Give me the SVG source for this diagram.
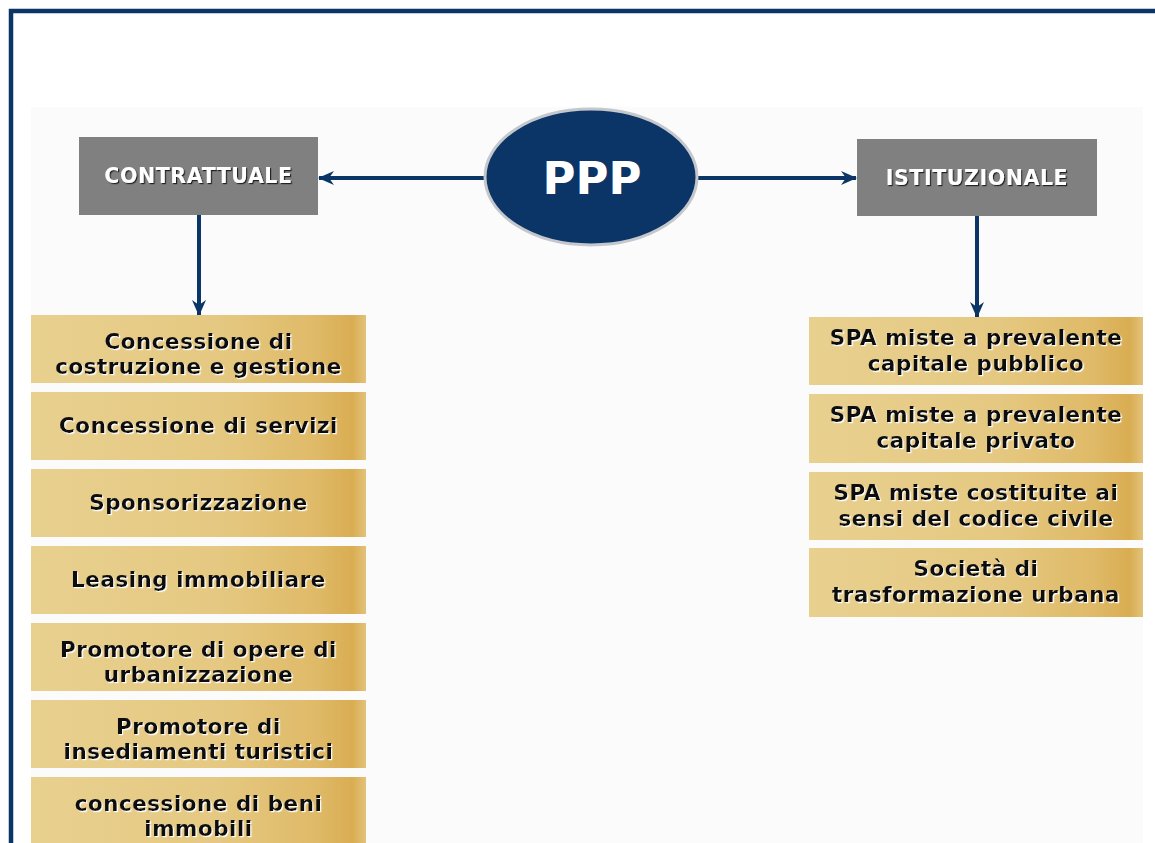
<svg xmlns="http://www.w3.org/2000/svg" width="1155" height="843" viewBox="0 0 1155 843">
<defs>
<style>
.hdr{fill:#808080}
.hdrt{font-family:"DejaVu Sans",sans-serif;font-weight:bold;font-size:20.5px;fill:#ffffff;text-anchor:middle;letter-spacing:0.6px;filter:url(#dark)}
.gold{fill:url(#gg)}
.gt{font-family:"DejaVu Sans",sans-serif;font-weight:bold;font-size:21.5px;fill:#0d0d0d;text-anchor:middle;letter-spacing:0.5px;filter:url(#light)}
.conn{stroke:#0a3566;stroke-width:4;fill:none}
</style>
<linearGradient id="gg" x1="0" y1="0" x2="1" y2="0">
<stop offset="0" stop-color="#e8d08f"/>
<stop offset="0.55" stop-color="#e5c982"/>
<stop offset="0.85" stop-color="#dfba68"/>
<stop offset="0.96" stop-color="#d9ad52"/>
<stop offset="1" stop-color="#e2c27a"/>
</linearGradient>
<filter id="light" x="-5%" y="-20%" width="110%" height="140%">
<feDropShadow dx="1.2" dy="1.2" stdDeviation="0.3" flood-color="#ffffff" flood-opacity="1"/>
</filter>
<filter id="dark" x="-5%" y="-20%" width="110%" height="140%">
<feDropShadow dx="1.2" dy="1.2" stdDeviation="0.3" flood-color="#222222" flood-opacity="1"/>
</filter>
<marker id="ah" markerWidth="16" markerHeight="14" refX="15" refY="7" orient="auto" markerUnits="userSpaceOnUse">
<path d="M0,0 L16,7 L0,14 L5,7 Z" fill="#0a3566"/>
</marker>
</defs>
<rect x="0" y="0" width="1155" height="843" fill="#ffffff"/>
<rect x="31" y="107" width="1112" height="736" fill="#fbfbfb"/>
<rect x="11" y="11" width="1160" height="850" fill="none" stroke="#0a3566" stroke-width="4.5"/>

<g id="connectors">
<line class="conn" x1="486" y1="178" x2="319" y2="178" marker-end="url(#ah)"/>
<line class="conn" x1="698" y1="178" x2="856" y2="178" marker-end="url(#ah)"/>
<line class="conn" x1="199" y1="215" x2="199" y2="315" marker-end="url(#ah)"/>
<line class="conn" x1="977" y1="216" x2="977" y2="317" marker-end="url(#ah)"/>
</g>

<g id="ppp">
<ellipse cx="591" cy="177" rx="106" ry="68" fill="#0a3566" stroke="#c4c8cc" stroke-width="3"/>
<text x="592" y="194" font-family="DejaVu Sans, sans-serif" font-weight="bold" font-size="45" fill="#ffffff" text-anchor="middle">PPP</text>
</g>

<g id="contrattuale">
<rect class="hdr" x="79" y="137" width="239" height="78"/>
<text class="hdrt" x="198.5" y="183">CONTRATTUALE</text>
</g>
<g id="istituzionale">
<rect class="hdr" x="857" y="139" width="240" height="77"/>
<text class="hdrt" x="977" y="185">ISTITUZIONALE</text>
</g>

<g id="l1"><rect class="gold" x="31" y="315" width="335" height="68"/>
<text class="gt" x="198.5" y="349">Concessione di</text><text class="gt" x="198.5" y="374">costruzione e gestione</text></g>
<g id="l2"><rect class="gold" x="31" y="392" width="335" height="68"/>
<text class="gt" x="198.5" y="433">Concessione di servizi</text></g>
<g id="l3"><rect class="gold" x="31" y="469" width="335" height="68"/>
<text class="gt" x="198.5" y="510">Sponsorizzazione</text></g>
<g id="l4"><rect class="gold" x="31" y="546" width="335" height="68"/>
<text class="gt" x="198.5" y="587">Leasing immobiliare</text></g>
<g id="l5"><rect class="gold" x="31" y="623" width="335" height="68"/>
<text class="gt" x="198.5" y="657">Promotore di opere di</text><text class="gt" x="198.5" y="682">urbanizzazione</text></g>
<g id="l6"><rect class="gold" x="31" y="700" width="335" height="68"/>
<text class="gt" x="198.5" y="734">Promotore di</text><text class="gt" x="198.5" y="759">insediamenti turistici</text></g>
<g id="l7"><rect class="gold" x="31" y="777" width="335" height="66"/>
<text class="gt" x="198.5" y="811">concessione di beni</text><text class="gt" x="198.5" y="836">immobili</text></g>

<g id="r1"><rect class="gold" x="809" y="317" width="334" height="68"/>
<text class="gt" x="976" y="345">SPA miste a prevalente</text><text class="gt" x="976" y="371">capitale pubblico</text></g>
<g id="r2"><rect class="gold" x="809" y="394" width="334" height="69"/>
<text class="gt" x="976" y="422">SPA miste a prevalente</text><text class="gt" x="976" y="448">capitale privato</text></g>
<g id="r3"><rect class="gold" x="809" y="472" width="334" height="68"/>
<text class="gt" x="976" y="500">SPA miste costituite ai</text><text class="gt" x="976" y="526">sensi del codice civile</text></g>
<g id="r4"><rect class="gold" x="809" y="548" width="334" height="69"/>
<text class="gt" x="976" y="576">Società di</text><text class="gt" x="976" y="602">trasformazione urbana</text></g>
</svg>
